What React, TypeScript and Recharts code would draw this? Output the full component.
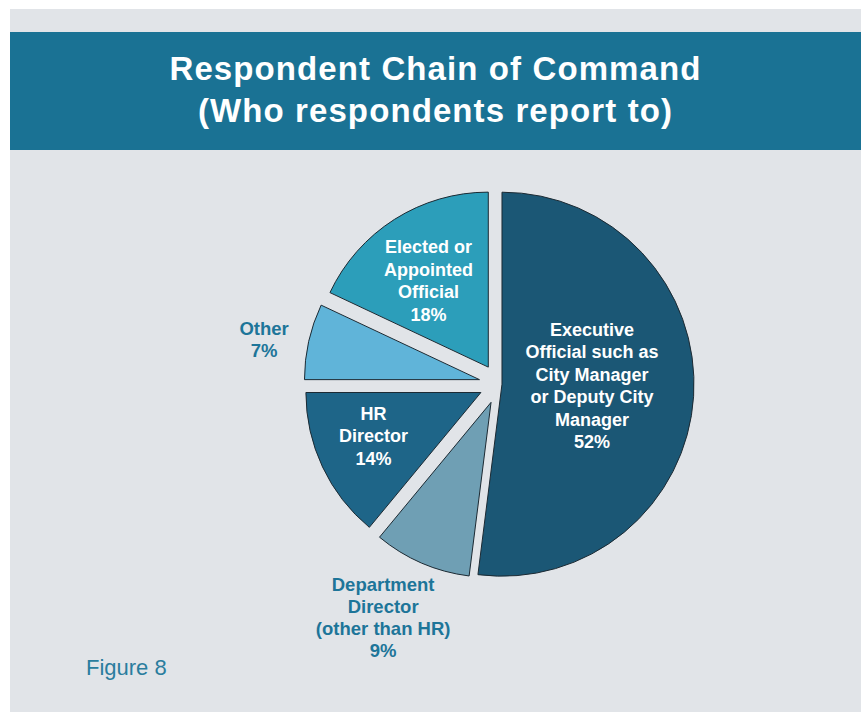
import React from "react";
import { PieChart, Pie, Sector } from "recharts";

// shares, clockwise from 12 o'clock
const categories = [
  "Executive Official such as City Manager or Deputy City Manager",
  "Department Director (other than HR)",
  "HR Director",
  "Other",
  "Elected or Appointed Official",
];
const shares = [52, 9, 14, 7, 18];
const labelLines = [
  ["Executive", "Official such as", "City Manager", "or Deputy City", "Manager"],
  ["Department", "Director", "(other than HR)"],
  ["HR", "Director"],
  ["Other"],
  ["Elected or", "Appointed", "Official"],
];
const titleLines = ["Respondent Chain of Command", "(Who respondents report to)"];

// look of each slice
const colors = ["#1b5775", "#6f9fb4", "#1e6588", "#60b4d9", "#2c9eba"];
const explode = [3, 20, 20, 20, 20];
const labelDist = [90, 241, 116, 219, 105];
const labelTurn = [2.5, -3.2, -3.1, 2.1, 2.3];
const labelInside = [true, false, true, false, true];

const data = categories.map((name, i) => ({ name, value: shares[i] }));

const RAD = Math.PI / 180;
const polar = (cx: number, cy: number, r: number, a: number) => ({
  x: cx + r * Math.cos(-a * RAD),
  y: cy + r * Math.sin(-a * RAD),
});

const renderSlice = (props: any) => {
  const { cx, cy, midAngle, outerRadius, startAngle, endAngle, index } = props;
  const apex = polar(cx, cy, explode[index], midAngle);
  const pos = polar(apex.x, apex.y, labelDist[index], midAngle + labelTurn[index]);
  const lines = [...labelLines[index], `${shares[index]}%`];
  const inside = labelInside[index];
  const gap = inside ? 22.5 : 22;
  const top = pos.y - ((lines.length - 1) * gap) / 2;
  return (
    <g key={`slice-${index}`}>
      <Sector
        cx={apex.x}
        cy={apex.y}
        innerRadius={0}
        outerRadius={outerRadius - explode[index]}
        startAngle={startAngle}
        endAngle={endAngle}
        fill={colors[index]}
        stroke="#1c2a33"
        strokeWidth={1}
      />
      {lines.map((t, j) => (
        <text
          key={j}
          x={pos.x}
          y={top + j * gap}
          textAnchor="middle"
          dominantBaseline="central"
          fill={inside ? "#ffffff" : "#1d7599"}
          fontSize={inside ? 18 : 18.5}
          fontWeight="bold"
          fontFamily="'Liberation Sans', Arial, sans-serif"
        >
          {t}
        </text>
      ))}
    </g>
  );
};

export default function App() {
  return (
    <div style={{ position: "relative", width: 861, height: 712, background: "#ffffff" }}>
      <style>{"body{margin:0}"}</style>
      <svg width={861} height={712} style={{ position: "absolute", left: 0, top: 0 }}>
        <rect x={10} y={9} width={851} height={703} fill="#e1e4e8" />
        <rect x={10} y={32} width={851} height={118} fill="#1a7294" />
        {titleLines.map((t, i) => (
          <text
            key={i}
            x={435.5}
            y={80 + i * 42}
            textAnchor="middle"
            fill="#ffffff"
            fontSize={33}
            fontWeight="bold"
            letterSpacing={1.1}
            fontFamily="'Liberation Sans', Arial, sans-serif"
          >
            {t}
          </text>
        ))}
        <text
          x={86}
          y={675}
          fill="#2a7d9e"
          fontSize={22}
          fontFamily="'Liberation Sans', Arial, sans-serif"
        >
          Figure 8
        </text>
      </svg>
      <div style={{ position: "absolute", left: 0, top: 0 }}>
        <PieChart width={861} height={712} margin={{ top: 0, right: 0, bottom: 0, left: 0 }}>
          <Pie
            data={data}
            dataKey="value"
            nameKey="name"
            cx={499}
            cy={384}
            outerRadius={195}
            startAngle={90}
            endAngle={-270}
            fill="transparent"
            stroke="none"
            labelLine={false}
            label={renderSlice}
            isAnimationActive={false}
          />
        </PieChart>
      </div>
    </div>
  );
}
